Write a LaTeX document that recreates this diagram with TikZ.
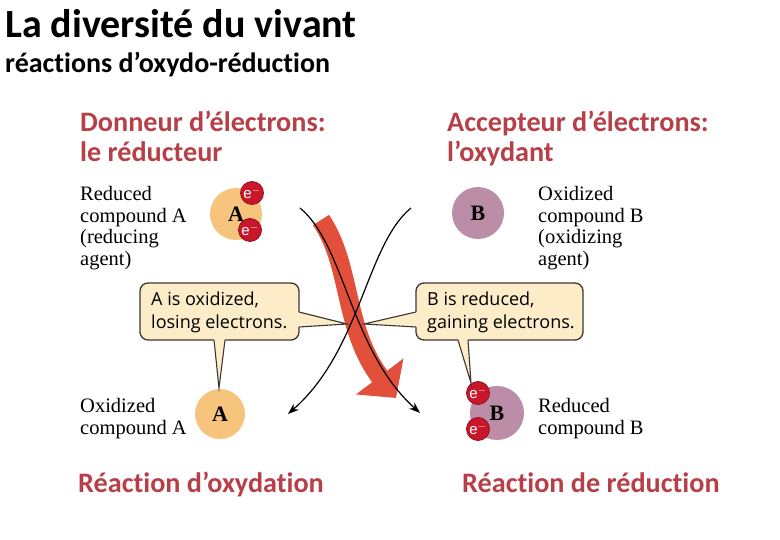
\documentclass[tikz,border=0pt]{standalone}
\usepackage{fontspec}
\setmainfont{Liberation Serif}
\newfontfamily\headfont[Ligatures=NoCommon]{Carlito}
\newfontfamily\bubblefont{Open Sans}
\newfontfamily\elecfont{Liberation Sans}
\usetikzlibrary{arrows.meta}
\definecolor{hdred}{RGB}{183,64,72}
\definecolor{molA}{RGB}{247,196,125}
\definecolor{molB}{RGB}{187,141,166}
\definecolor{elec}{RGB}{200,22,42}
\definecolor{bubble}{RGB}{252,236,200}
\definecolor{bubbleline}{RGB}{60,55,50}
\definecolor{bigred}{RGB}{226,80,60}
\begin{document}
\begin{tikzpicture}[x=1pt,y=-1pt,
  hdr/.style={font=\headfont\bfseries\fontsize{28.2}{32}\selectfont, text=hdred, anchor=base west, inner sep=0},
  lbl/.style={font=\fontsize{20.5}{22}\selectfont, anchor=base west, inner sep=0},
  btxt/.style={font=\bubblefont\fontsize{18}{20}\selectfont, anchor=base west, inner sep=0},
  mola/.style={circle, fill=molA, minimum size=52pt, inner sep=0, font=\bfseries\fontsize{22}{22}\selectfont},
  molb/.style={circle, fill=molB, minimum size=52pt, inner sep=0, font=\bfseries\fontsize{22}{22}\selectfont},
  elecnode/.style={circle, fill=elec, draw=elec!75!black, line width=0.8pt, minimum size=23pt, inner sep=0, text=white, font=\elecfont\fontsize{15}{15}\selectfont},
  bubblebox/.style={fill=bubble, draw=bubbleline, line width=1.3pt, rounded corners=8pt},
  tailfill/.style={fill=bubble},
  tailline/.style={draw=bubbleline, line width=1.1pt, line join=miter},
  curvearrow/.style={draw=black, line width=1.2pt, -{Stealth[length=11pt,width=8pt]}},
  bigarrow/.style={draw=bigred, line width=19pt, -{Triangle[length=27pt,width=58pt]}}
]
\useasboundingbox (0,0) rectangle (780,540);
\fill[white] (0,0) rectangle (780,540);

% titles
\node[anchor=base west, inner sep=0, font=\headfont\bfseries\fontsize{40}{46}\selectfont] (title) at (5,38) {La diversité du vivant};
\node[anchor=base west, inner sep=0, font=\headfont\bfseries\fontsize{28}{32}\selectfont] (subtitle) at (5,73) {réactions d’oxydo-réduction};

\node[hdr] (donneur1) at (80,132) {Donneur d’électrons:};
\node[hdr] (donneur2) at (80,162) {le réducteur};
\node[hdr] (accept1) at (447,132) {Accepteur d’électrons:};
\node[hdr] (accept2) at (447,162) {l’oxydant};
\node[hdr] (oxyd) at (78,492) {Réaction d’oxydation};
\node[hdr] (reduc) at (462,492) {Réaction de réduction};

% serif labels
\node[lbl] (ra1) at (80,201) {Reduced};
\node[lbl] (ra2) at (80,222.5) {compound A};
\node[lbl] (ra3) at (80,244) {(reducing};
\node[lbl] (ra4) at (80,265.5) {agent)};
\node[lbl] (ob1) at (538,201) {Oxidized};
\node[lbl] (ob2) at (538,222.5) {compound B};
\node[lbl] (ob3) at (538,244) {(oxidizing};
\node[lbl] (ob4) at (538,265.5) {agent)};
\node[lbl] (oa1) at (80,413) {Oxidized};
\node[lbl] (oa2) at (80,435) {compound A};
\node[lbl] (rb1) at (538,413) {Reduced};
\node[lbl] (rb2) at (538,435) {compound B};

% molecules
\node[mola] (Atop) at (236,214) {A};
\node[elecnode] (eA1) at (252,193) {e$^{-}$};
\node[elecnode] (eA2) at (250,230) {e$^{-}$};
\node[molb] (Btop) at (478,213) {B};
\node[mola, minimum size=50pt] (Abot) at (220,414) {A};
\node[molb, minimum size=54pt] (Bbot) at (497,413) {B};
\node[elecnode] (eB1) at (478,393) {e$^{-}$};
\node[elecnode] (eB2) at (478,429) {e$^{-}$};

% coordinates
\coordinate (c1s) at (300,208);
\coordinate (c1e) at (420,413);
\coordinate (c2s) at (411,208);
\coordinate (c2e) at (288,414);
\coordinate (rs) at (321,220);
\coordinate (re) at (396,398);
\coordinate (tipL) at (347,324);
\coordinate (tipR) at (364,324);
\coordinate (tipLd) at (219,388);
\coordinate (tipRd) at (471,383);

% big red arrow
\draw[bigarrow] (rs) .. controls (352,266) and (343,328) .. (re);

% callout boxes
\path[bubblebox] (140,283) rectangle (299,340);
\node[btxt] (boxA1) at (151,306) {A is oxidized,};
\node[btxt] (boxA2) at (151,329) {losing electrons.};
\fill[tailfill] (296,312) -- (299.6,312) -- (tipL) -- (299.6,327) -- (296,327) -- cycle;
\draw[tailline] (299,312) -- (tipL) -- (299,327);
\fill[tailfill] (214,337) -- (214,340.6) -- (tipLd) -- (225,340.6) -- (225,337) -- cycle;
\draw[tailline] (214,340) -- (tipLd) -- (225,340);

\path[bubblebox] (416,283) rectangle (583,340);
\node[btxt] (boxB1) at (427,306) {B is reduced,};
\node[btxt] (boxB2) at (427,329) {gaining electrons.};
\fill[tailfill] (419,312) -- (415.4,312) -- (tipR) -- (415.4,327) -- (419,327) -- cycle;
\draw[tailline] (416,312) -- (tipR) -- (416,327);
\fill[tailfill] (458,337) -- (458,340.6) -- (tipRd) -- (468,340.6) -- (468,337) -- cycle;
\draw[tailline] (458,340) -- (tipRd) -- (468,340);

% black crossing curves
\draw[curvearrow] (c1s) .. controls (345,245) and (350,350) .. (c1e);
\draw[curvearrow] (c2s) .. controls (366,245) and (361,350) .. (c2e);
\end{tikzpicture}
\end{document}
